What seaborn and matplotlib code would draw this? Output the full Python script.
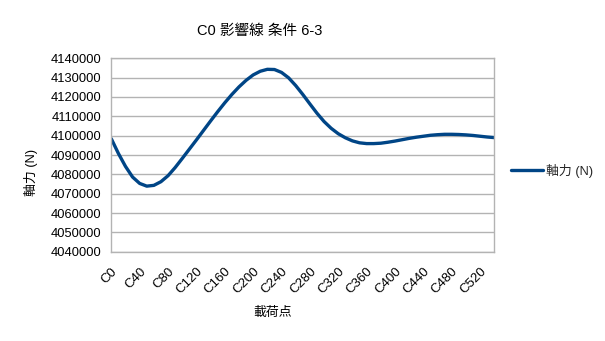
import numpy as np
import pandas as pd
import matplotlib
matplotlib.use("Agg")
import matplotlib.pyplot as plt
import seaborn as sns

# Load points C0 .. C540 (step 10)
categories = [f"C{i * 10}" for i in range(55)]
axial_force = [
    4098400, 4090800, 4084100, 4078600, 4075300, 4073900, 4074300, 4076200,
    4079300, 4083500, 4088200, 4093000, 4097800, 4102700, 4107600, 4112400,
    4117000, 4121300, 4125200, 4128600, 4131400, 4133300, 4134300, 4134200,
    4132700, 4129900, 4125900, 4121300, 4116400, 4111600, 4107300, 4103800,
    4101000, 4098900, 4097300, 4096300, 4095900, 4095900, 4096100, 4096600,
    4097200, 4097900, 4098600, 4099200, 4099700, 4100200, 4100500, 4100700,
    4100700, 4100600, 4100400, 4100100, 4099700, 4099300, 4099000,
]
y_ticks = list(range(4040000, 4140001, 10000))

title = "C0 影響線 条件 6-3"
y_label = "軸力 (N)"
x_label = "載荷点"
series_name = "軸力 (N)"

sns.set_theme(style="white")
fonts = ["Liberation Sans", "Noto Sans CJK JP", "DejaVu Sans"]
plt.rcParams["font.family"] = fonts

W, H = 605, 341
fig = plt.figure(figsize=(W / 100, H / 100), dpi=100)
ax = fig.add_axes([111.3 / W, 1 - 251.7 / H, (494.3 - 111.3) / W, (251.7 - 58.3) / H])

df = pd.DataFrame({"pos": np.arange(len(categories)), "force": axial_force})
line_color = "#004586"
sns.lineplot(data=df, x="pos", y="force", ax=ax, color=line_color,
             linewidth=2.4, label=series_name, legend=False)

grid_c = "#b3b3b3"
ax.set_xlim(0, len(categories) - 1)
ax.set_ylim(y_ticks[0], y_ticks[-1])
ax.set_yticks(y_ticks)
ax.set_yticklabels([str(v) for v in y_ticks], fontsize=9.3, color="#000000")
ax.yaxis.grid(True, color=grid_c, linewidth=1)
ax.xaxis.grid(False)

ax.set_xticks(np.arange(len(categories)))
ax.set_xticklabels([c if i % 4 == 0 else "" for i, c in enumerate(categories)],
                   rotation=45, ha="right", rotation_mode="anchor",
                   fontsize=9.5, color="#000000")
ax.tick_params(axis="both", which="major", length=4, width=1, color=grid_c,
               direction="out", pad=3)
ax.tick_params(axis="x", pad=6)
for s in ax.spines.values():
    s.set_color(grid_c)
    s.set_linewidth(1)
ax.set_xlabel("")
ax.set_ylabel("")

fig.text(260 / W, 1 - 31 / H, title, ha="center", va="center", fontsize=10.5,
         color="#000000")
fig.text(31 / W, 1 - 172 / H, y_label, ha="center", va="center", rotation=90,
         fontsize=9.3, color="#000000")
fig.text(273 / W, 1 - 313 / H, x_label, ha="center", va="center",
         fontsize=9.3, color="#000000")

handles, labels = ax.get_legend_handles_labels()
fig.legend(handles, labels, loc="center left", bbox_to_anchor=(511 / W, 1 - 170.7 / H),
           frameon=False, fontsize=9.3, handlelength=2.5, handletextpad=0.2,
           borderpad=0, borderaxespad=0)

fig.savefig("out.png", dpi=100)
